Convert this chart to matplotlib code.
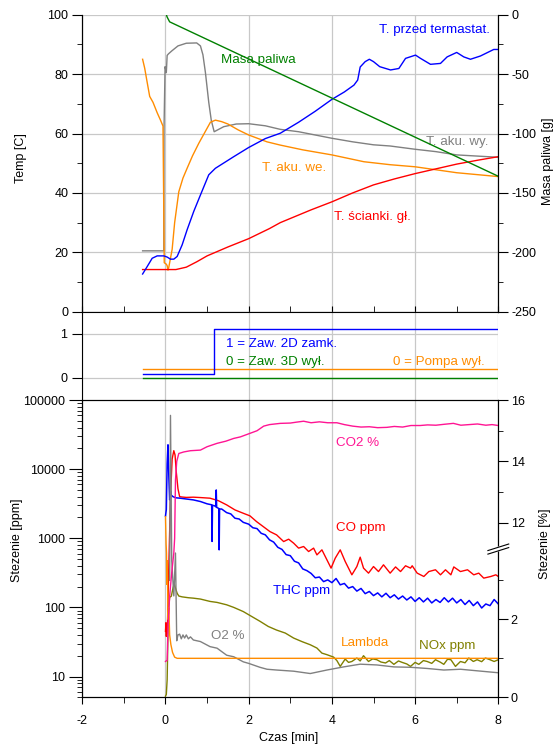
import numpy as np
import matplotlib
matplotlib.use("Agg")
from matplotlib import pyplot as plt
from matplotlib.ticker import MultipleLocator, FixedLocator, NullFormatter, LogLocator

plt.rcParams['font.family'] = ['Liberation Sans', 'DejaVu Sans']
plt.rcParams['font.size'] = 9
plt.rcParams['axes.unicode_minus'] = False

BLUE = '#0000ff'
RED = '#ff0000'
GREEN = '#008000'
ORANGE = '#ff8c00'
GRAY = '#808080'
PINK = '#ff1493'
OLIVE = '#808000'
GRID = '#c8c8c8'
NOTE = 9.6  # size of the in-plot labels

# --- top panel: temperatures [C] and fuel mass [g] vs time [min]
t_aku_wy = [-0.55, -0.04, -0.035, -0.01, 0.02, 0.04, 0.07, 0.15, 0.3, 0.5, 0.75, 0.84, 0.9,
            0.96, 1.04, 1.1, 1.17, 1.4, 1.7, 2.0, 2.4, 2.76, 3.2, 3.6, 4.0, 4.5, 5.0, 5.4,
            6.0, 6.5, 7.0, 7.5, 8.0]
aku_wy = [20.5, 20.5, 62, 82.5, 80.5, 86.3, 86.8, 87.8, 89.5, 90.4, 90.5, 89.5, 86.5,
          80.5, 70.5, 64.5, 60.6, 62.3, 63.2, 63.3, 62.6, 61.4, 60.6, 59.5, 58.4, 57.2, 56.2, 55.8,
          54.7, 53.9, 52.8, 52.4, 52.0]

t_aku_we = [-0.55, -0.5, -0.45, -0.38, -0.3, -0.2, -0.12, -0.06, -0.045, -0.03, 0.02, 0.04,
            0.06, 0.08, 0.12, 0.16, 0.22, 0.32, 0.42, 0.52, 0.65, 0.8, 0.95, 1.08, 1.2, 1.35,
            1.5, 1.75, 2.0, 2.44, 2.76, 3.3, 4.0, 4.77, 5.4, 6.0, 7.0, 8.0]
aku_we = [85, 82, 78, 72.5, 70.5, 67, 64.5, 62.5, 40, 16.5, 16, 15.5,
          14.0, 15, 18, 21, 30, 40.4, 45, 48.3, 52.5, 56.7, 60.5, 63.8, 64.5, 64.0,
          63.2, 61.2, 59.5, 57.2, 56.1, 54.5, 52.8, 50.5, 49.5, 48.8, 46.8, 45.5]

t_scianki = [-0.55, 0.25, 0.5, 0.75, 1.0, 1.25, 1.5, 2.0, 2.5, 2.76, 3.5, 4.0, 4.5, 5.0,
             5.5, 6.0, 6.5, 7.0, 7.5, 8.0]
scianki = [14.2, 14.2, 15.0, 16.8, 18.8, 20.3, 21.8, 24.6, 28.0, 30.0, 34.3, 37.0, 40.0, 42.7,
           44.7, 46.5, 48.1, 49.7, 51.0, 52.2]

t_termostat = [-0.55, -0.44, -0.32, -0.2, -0.04, 0.04, 0.12, 0.2, 0.28, 0.4, 0.52, 0.68, 0.84,
               1.04, 1.2, 1.64, 2.0, 2.4, 2.76, 3.2, 3.6, 4.0, 4.3, 4.53, 4.62, 4.68, 4.8,
               4.9, 5.0, 5.15, 5.41, 5.61, 5.77, 6.01, 6.13, 6.37, 6.61, 6.77, 7.0, 7.17,
               7.33, 7.57, 7.89, 8.0]
termostat = [12.7, 15.2, 18.0, 18.8, 18.8, 18.4, 17.7, 17.7, 18.6, 22.5, 27.6, 33.8, 39.3,
             46.1, 48.3, 52.2, 55.3, 58.3, 60.1, 63.8, 67.5, 71.5, 74.0, 76.3, 78.0, 82.4, 84.2,
             85.0, 84.2, 82.5, 81.4, 81.9, 85.3, 86.4, 85.3, 83.3, 83.6, 85.8, 87.3, 85.8,
             85.0, 86.1, 88.3, 88.3]

t_masa = [0.02, 0.04, 0.1, 8.0]
masa = [0, -2, -6, -136]

# --- middle panel: valve / pump states
t_state = [-0.55, 8.0]
zaw_3d = [0, 0]
pompa = [0.2, 0.2]
t_zaw_2d = [-0.55, 1.16, 8.0]
zaw_2d = [0.1, 1.1, 1.1]

# --- bottom panel: concentrations
co_t = [0.0, 0.01, 0.02, 0.03, 0.04, 0.05, 0.08, 0.12, 0.16, 0.2, 0.23, 0.26, 0.3, 0.34,
        0.4, 0.5, 0.67, 0.84, 1.07, 1.27, 1.47, 1.67, 1.87, 2.03, 2.19, 2.35, 2.51, 2.67,
        2.84, 2.96, 3.08, 3.2, 3.32, 3.44, 3.56, 3.64, 3.76, 3.88, 3.98, 4.08, 4.2, 4.32,
        4.48, 4.6, 4.68, 4.76, 4.88, 5.0, 5.12, 5.24, 5.4, 5.53, 5.65, 5.77, 5.89, 5.93,
        6.05, 6.21, 6.33, 6.49, 6.61, 6.73, 6.86, 6.93, 7.09, 7.26, 7.41, 7.53, 7.65, 7.82,
        7.94, 8.0]
co_ppm = [45, 60, 38, 55, 42, 65, 400, 4000, 14000, 18500, 16000, 9000, 5200, 4000,
          3950, 3900, 3930, 3880, 3800, 3500, 3040, 2570, 2300, 2110, 1740, 1475, 1250, 1120,
          896, 970, 850, 720, 760, 643, 720, 575, 680, 488, 370, 515, 680, 461,
          296, 390, 533, 370, 313, 390, 330, 413, 313, 385, 330, 400, 370, 400,
          313, 280, 330, 350, 296, 350, 296, 385, 330, 350, 296, 313, 265, 280,
          296, 280]

thc_t = [0.0, 0.02, 0.04, 0.06, 0.08, 0.1, 0.12, 0.14, 0.18, 0.25, 0.35, 0.5, 0.67, 0.84,
         1.0, 1.11, 1.12, 1.13, 1.18, 1.21, 1.22, 1.23, 1.28, 1.29, 1.3, 1.35, 1.47, 1.57,
         1.67, 1.77, 1.87, 2.0, 2.1, 2.2, 2.3, 2.4, 2.5, 2.6, 2.7, 2.8, 2.9, 3.0, 3.1, 3.2,
         3.3, 3.4, 3.5, 3.6, 3.7, 3.8, 3.9, 4.0, 4.1, 4.2, 4.3, 4.4, 4.5, 4.6, 4.7, 4.8,
         4.9, 5.0, 5.1, 5.2, 5.3, 5.4, 5.5, 5.6, 5.7, 5.8, 5.9, 6.0, 6.1, 6.2, 6.3, 6.4,
         6.5, 6.6, 6.7, 6.8, 6.9, 7.0, 7.1, 7.2, 7.3, 7.4, 7.5, 7.6, 7.7, 7.8, 7.9, 8.0]
thc_ppm = [2100, 2600, 12000, 22500, 8000, 3600, 4800, 4200, 4000, 3850, 3800, 3700, 3590, 3400,
           3150, 3050, 900, 3000, 2950, 2850, 5000, 2800, 2700, 680, 2650, 2650, 2350, 2250,
           1950, 1900, 1700, 1600, 1420, 1380, 1180, 1120, 950, 880, 740, 690, 580, 560, 465, 440,
           360, 340, 310, 268, 275, 236, 250, 228, 262, 212, 222, 190, 200, 172, 188, 158,
           170, 148, 162, 142, 160, 138, 152, 132, 146, 128, 142, 122, 138, 120, 136, 116,
           130, 118, 138, 120, 136, 116, 130, 110, 126, 106, 120, 98, 112, 106, 130, 112]

nox_t = [0.0, 0.02, 0.04, 0.07, 0.1, 0.14, 0.18, 0.21, 0.24, 0.28, 0.32, 0.4, 0.55, 0.67,
         0.84, 1.07, 1.24, 1.47, 1.64, 1.87, 2.07, 2.27, 2.47, 2.67, 2.88, 3.08, 3.28, 3.48,
         3.64, 3.76, 3.88, 4.04, 4.12, 4.2, 4.32, 4.4, 4.48, 4.6, 4.68, 4.76, 4.88, 4.98,
         5.08, 5.18, 5.29, 5.38, 5.49, 5.6, 5.69, 5.8, 5.89, 6.0, 6.09, 6.2, 6.29, 6.4,
         6.49, 6.6, 6.69, 6.78, 6.86, 6.97, 7.09, 7.2, 7.29, 7.4, 7.49, 7.6, 7.69, 7.8,
         7.9, 8.0]
nox_ppm = [5.2, 5.5, 9, 90, 140, 145, 190, 219, 190, 160, 146, 142, 138, 136,
           132, 122, 118, 109, 100, 87, 74, 63, 53, 47, 42.5, 36, 32, 28.8,
           25.8, 21.8, 20.7, 19.1, 17, 14, 17.9, 16, 16.5, 18.5, 16.8, 20, 16.5, 18,
           17.5, 16.2, 15.7, 17, 15, 16.8, 16, 15.2, 14, 16, 15, 17, 16.5, 15.5,
           17.5, 16.2, 15, 17.8, 17.5, 14, 16.5, 15.8, 18.5, 16.5, 17.5, 16.4, 18.5, 17.5,
           16.5, 17.5]

co2_t = [0.0, 0.04, 0.06, 0.1, 0.15, 0.2, 0.22, 0.24, 0.27, 0.32, 0.44, 0.6, 0.84, 1.0,
         1.24, 1.45, 1.64, 1.8, 2.0, 2.2, 2.36, 2.5, 2.76, 3.0, 3.15, 3.32, 3.5, 3.7, 3.9,
         4.12, 4.3, 4.5, 4.7, 4.9, 5.1, 5.32, 5.5, 5.7, 5.9, 6.12, 6.3, 6.5, 6.7, 6.92,
         7.1, 7.3, 7.5, 7.7, 7.85, 8.0]
co2_pct = [0.92, 0.95, 1.8, 2.6, 3.2, 3.7, 11.5, 13.4, 14.0, 14.26, 14.31, 14.35, 14.37, 14.48,
           14.59, 14.66, 14.75, 14.8, 14.9, 15.0, 15.15, 15.2, 15.24, 15.25, 15.28, 15.31, 15.26,
           15.29, 15.26, 15.26, 15.2, 15.15, 15.12, 15.13, 15.1, 15.11, 15.14, 15.12, 15.17,
           15.17, 15.19, 15.18, 15.21, 15.24, 15.18, 15.2, 15.22, 15.18, 15.2, 15.17]

o2_t = [0.1, 0.12, 0.15, 0.2, 0.24, 0.27, 0.3, 0.34, 0.38, 0.42, 0.46, 0.5, 0.55, 0.6,
        0.67, 0.84, 1.07, 1.24, 1.47, 1.64, 1.87, 2.0, 2.27, 2.44, 2.67, 3.08, 3.48, 3.88,
        4.28, 4.68, 5.08, 5.49, 5.89, 6.29, 6.69, 7.09, 7.49, 8.0]
o2_pct = [3.0, 15.5, 3.5, 2.6, 3.7, 1.45, 1.6, 1.62, 1.5, 1.6, 1.52, 1.6, 1.5, 1.55,
          1.47, 1.43, 1.3, 1.26, 1.08, 1.04, 0.91, 0.87, 0.77, 0.72, 0.7, 0.67, 0.61, 0.7,
          0.78, 0.85, 0.83, 0.78, 0.77, 0.74, 0.7, 0.72, 0.68, 0.63]

lambda_t = [0.0, 0.015, 0.025, 0.03, 0.045, 0.06, 0.08, 0.1, 0.13, 0.17, 0.22, 0.28, 0.35, 8.0]
lambda_v = [12.2, 11.3, 3.7, 2.9, 3.5, 2.0, 2.3, 1.6, 1.35, 1.15, 1.03, 1.0, 1.0, 1.0]

ppm_ticks = [10, 100, 1000, 10000, 100000]
pct_ticks = [0, 2, 12, 14, 16]

# broken % axis: 0..3.8 and 11.15..16
PCT_KNOTS = [0, 3.8, 11.15, 16]
PIX_KNOTS = [0, 148.2, 148.3, 297.3]


def pct_fwd(v):
    return np.interp(v, PCT_KNOTS, PIX_KNOTS)


def pct_inv(p):
    return np.interp(p, PIX_KNOTS, PCT_KNOTS)


fig = plt.figure(figsize=(5.53, 7.47), dpi=100)
L, W = 0.1488, 0.7523
ax_t = fig.add_axes([L, 0.5827, W, 0.3976])
ax_m = fig.add_axes([L, 0.4645, W, 0.1182])
ax_b = fig.add_axes([L, 0.0665, W, 0.3980])

for ax in (ax_t, ax_m, ax_b):
    ax.set_xlim(-2, 8)
    ax.set_xticks([-2, 0, 2, 4, 6, 8])
    ax.xaxis.set_minor_locator(MultipleLocator(1))
    ax.set_axisbelow(True)

# top panel
ax_t.plot(t_aku_wy, aku_wy, color=GRAY, lw=1)
ax_t.plot(t_aku_we, aku_we, color=ORANGE, lw=1)
ax_t.plot(t_scianki, scianki, color=RED, lw=1)
ax_t.plot(t_termostat, termostat, color=BLUE, lw=1)
ax_t.set_ylim(0, 100)
ax_t.set_yticks([0, 20, 40, 60, 80, 100])
ax_t.yaxis.set_minor_locator(MultipleLocator(10))
ax_t.grid(True, which='major', color=GRID, lw=0.9)
ax_t.spines['top'].set_visible(False)
ax_t.tick_params(axis='x', which='both', direction='in', length=4, labelbottom=False)
ax_t.tick_params(axis='y', which='major', length=7, pad=3)
ax_t.tick_params(axis='y', which='minor', length=3.5)
ax_t.set_ylabel('Temp [C]')
ax_t.yaxis.set_label_coords(-0.134, 0.517)

ax_tr = ax_t.twinx()
ax_tr.plot(t_masa, masa, color=GREEN, lw=1)
ax_tr.set_ylim(-250, 0)
ax_tr.set_yticks([-250, -200, -150, -100, -50, 0])
ax_tr.yaxis.set_minor_locator(MultipleLocator(25))
ax_tr.spines['top'].set_visible(False)
ax_tr.tick_params(axis='y', which='major', length=7, pad=2.5)
ax_tr.tick_params(axis='y', which='minor', length=3.5)
ax_tr.set_ylabel('Masa paliwa [g]')
ax_tr.yaxis.set_label_coords(1.104, 0.507)

ax_t.text(5.14, 94.8, 'T. przed termastat.', color=BLUE, va='center', fontsize=NOTE)
ax_t.text(1.34, 84.7, 'Masa paliwa', color=GREEN, va='center', fontsize=NOTE)
ax_t.text(2.33, 48.3, 'T. aku. we.', color=ORANGE, va='center', fontsize=NOTE)
ax_t.text(6.26, 57.2, 'T. aku. wy.', color=GRAY, va='center', fontsize=NOTE)
ax_t.text(4.06, 31.8, 'T. ścianki. gł.', color=RED, va='center', fontsize=NOTE)

# middle panel
ax_m.plot(t_state, zaw_3d, color=GREEN, lw=1)
ax_m.plot(t_state, pompa, color=ORANGE, lw=1)
ax_m.plot(t_zaw_2d, zaw_2d, color=BLUE, lw=1, drawstyle='steps-post')
ax_m.set_ylim(-0.5, 1.5)
ax_m.set_yticks([0, 1])
ax_m.grid(True, which='major', color=GRID, lw=0.9)
for s in ('top', 'right', 'bottom'):
    ax_m.spines[s].set_visible(False)
ax_m.tick_params(axis='x', which='both', length=0, labelbottom=False)
ax_m.tick_params(axis='y', which='major', length=7, pad=4)
ax_m.text(1.46, 0.76, '1 = Zaw. 2D zamk.', color=BLUE, va='center', fontsize=NOTE)
ax_m.text(1.46, 0.37, '0 = Zaw. 3D wył.', color=GREEN, va='center', fontsize=NOTE)
ax_m.text(5.48, 0.37, '0 = Pompa wył.', color=ORANGE, va='center', fontsize=NOTE)

# bottom panel
ax_b.set_yscale('log')
ax_b.plot(nox_t, nox_ppm, color=OLIVE, lw=1)
ax_b.plot(co_t, co_ppm, color=RED, lw=1)
ax_b.plot(thc_t, thc_ppm, color=BLUE, lw=1.1)
ax_b.set_ylim(5, 100000)
ax_b.yaxis.set_major_locator(FixedLocator(ppm_ticks))
ax_b.set_yticklabels([str(v) for v in ppm_ticks])
ax_b.yaxis.set_minor_locator(LogLocator(base=10, subs=np.arange(2, 10)))
ax_b.yaxis.set_minor_formatter(NullFormatter())
ax_b.grid(True, axis='x', which='major', color=GRID, lw=0.9)
ax_b.tick_params(axis='x', which='major', length=5, pad=8)
ax_b.tick_params(axis='x', which='minor', length=4)
ax_b.tick_params(axis='y', which='major', length=9.5, pad=3)
ax_b.tick_params(axis='y', which='minor', length=3.5)
ax_b.set_xlabel('Czas [min]')
ax_b.xaxis.set_label_coords(0.497, -0.115)
ax_b.set_ylabel('Stezenie [ppm]')
ax_b.yaxis.set_label_coords(-0.142, 0.53)

ax_br = ax_b.twinx()
ax_br.set_yscale('function', functions=(pct_fwd, pct_inv))
ax_br.plot(o2_t, o2_pct, color=GRAY, lw=1)
ax_br.plot(lambda_t, lambda_v, color=ORANGE, lw=1)
ax_br.plot(co2_t, co2_pct, color=PINK, lw=1)
ax_br.set_ylim(0, 16)
ax_br.yaxis.set_major_locator(FixedLocator(pct_ticks))
ax_br.set_yticklabels([str(v) for v in pct_ticks])
ax_br.yaxis.set_minor_locator(FixedLocator([1, 3, 13, 15]))
ax_br.yaxis.set_minor_formatter(NullFormatter())
ax_br.tick_params(axis='y', which='major', length=7, pad=2)
ax_br.tick_params(axis='y', which='minor', length=3.5)
ax_br.set_ylabel('Stezenie [%]')
ax_br.yaxis.set_label_coords(1.099, 0.516)

# break marks on the % axis
yb = 148.25 / 297.3
ax_br.fill([0.975, 1.025, 1.025, 0.975],
           [yb - 0.017, yb + 0.005, yb + 0.017, yb - 0.005],
           color='white', transform=ax_br.transAxes, clip_on=False, zorder=5)
for dy in (-0.006, 0.006):
    ax_br.plot([0.975, 1.025], [yb + dy - 0.011, yb + dy + 0.011], color='black', lw=0.8,
               transform=ax_br.transAxes, clip_on=False, zorder=6)

ax_b.text(4.10, 24200, 'CO2 %', color=PINK, va='center', fontsize=NOTE)
ax_b.text(4.10, 1400, 'CO ppm', color=RED, va='center', fontsize=NOTE)
ax_b.text(2.58, 175, 'THC ppm', color=BLUE, va='center', fontsize=NOTE)
ax_b.text(1.10, 38, 'O2 %', color=GRAY, va='center', fontsize=NOTE)
ax_b.text(4.22, 30.5, 'Lambda', color=ORANGE, va='center', fontsize=NOTE)
ax_b.text(6.09, 27.9, 'NOx ppm', color=OLIVE, va='center', fontsize=NOTE)

fig.savefig('out.png', dpi=100)
